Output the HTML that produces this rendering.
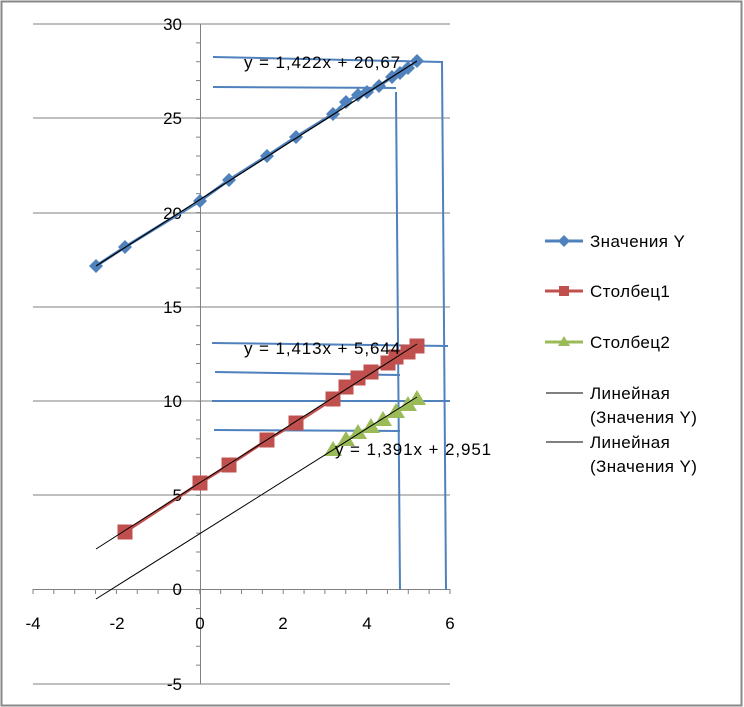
<!DOCTYPE html>
<html><head><meta charset="utf-8"><style>
html,body{margin:0;padding:0;background:#fff}
svg{display:block;font-family:"Liberation Sans",sans-serif}
</style></head><body>
<svg width="744" height="707" viewBox="0 0 744 707" xmlns="http://www.w3.org/2000/svg">
<rect x="1.5" y="1.5" width="740" height="704" fill="#fff" stroke="#888" stroke-width="2"/>
<g stroke="#808080" stroke-width="1">
<line x1="33" y1="24" x2="450" y2="24"/>
<line x1="33" y1="118" x2="450" y2="118"/>
<line x1="33" y1="213" x2="450" y2="213"/>
<line x1="33" y1="307" x2="450" y2="307"/>
<line x1="33" y1="401" x2="450" y2="401"/>
<line x1="33" y1="495" x2="450" y2="495"/>
<line x1="33" y1="589.5" x2="450" y2="589.5"/>
<line x1="33" y1="684" x2="450" y2="684"/>
<line x1="200.5" y1="24" x2="200.5" y2="684"/>
</g>
<g stroke="#808080" stroke-width="1" id="ticks"></g>
<g font-size="17" fill="#000" text-anchor="end">
<text x="182" y="30">30</text><text x="182" y="124">25</text><text x="182" y="219">20</text>
<text x="182" y="313">15</text><text x="182" y="407">10</text><text x="182" y="501">5</text>
<text x="182" y="595">0</text><text x="182" y="690">-5</text>
</g>
<g font-size="17" fill="#000" text-anchor="middle">
<text x="33" y="629">-4</text><text x="117" y="629">-2</text><text x="200" y="629">0</text>
<text x="283" y="629">2</text><text x="367" y="629">4</text><text x="450" y="629">6</text>
</g>
<g stroke="#4f81bd" stroke-width="2" fill="none">
<polyline points="213,57 442,62 446,590"/>
<polyline points="213,87 396,88"/>
<polyline points="396,92 400,590"/>
<polyline points="212,343 448,346"/>
<polyline points="215,372 400,375"/>
<polyline points="212,401 450,401"/>
<polyline points="214,430 400,431"/>
</g>
<polyline fill="none" stroke="#4f81bd" stroke-width="3" points="96,266 125,247 200,201 229,180 267,156 296,137 333,114 346,102 358,95 367,92 379,86 392,77 400,73 408,68 417,61"/>
<g fill="#4f81bd" id="bp"></g>
<line x1="96" y1="266" x2="417" y2="61" stroke="#000" stroke-width="1.2"/>
<polyline fill="none" stroke="#c0504d" stroke-width="3" points="125,532 200,483 229,465 267,440 296,423 333,399 346,387 358,378 371,372 388,363 396,357 408,352 417,346"/>
<g fill="#c0504d" id="rp"></g>
<line x1="96" y1="549" x2="417" y2="344" stroke="#000" stroke-width="1"/>
<polyline fill="none" stroke="#9bbb59" stroke-width="3" points="333,450 346,440 358,433 371,427 383,420 396,412 408,405 417,399"/>
<g fill="#9bbb59" id="gp"></g>
<line x1="96" y1="599" x2="417" y2="397" stroke="#000" stroke-width="1"/>
<g font-size="17" fill="#000" letter-spacing="0.9">
<text x="244" y="68">y = 1,422x + 20,67</text>
<text x="244" y="354">y = 1,413x + 5,644</text>
<text x="335" y="455">y = 1,391x + 2,951</text>
</g>
<line x1="545" y1="241" x2="583" y2="241" stroke="#4f81bd" stroke-width="3"/>
<polygon points="564,235 570,241 564,247 558,241" fill="#4f81bd"/>
<line x1="545" y1="291" x2="583" y2="291" stroke="#c0504d" stroke-width="3"/>
<rect x="559" y="286" width="10" height="10" fill="#c0504d"/>
<line x1="545" y1="342" x2="583" y2="342" stroke="#9bbb59" stroke-width="3"/>
<polygon points="564,336 570,346 558,346" fill="#9bbb59"/>
<line x1="546" y1="393" x2="583" y2="393" stroke="#000" stroke-width="1"/>
<line x1="546" y1="442" x2="583" y2="442" stroke="#000" stroke-width="1"/>
<g font-size="17" fill="#000" letter-spacing="0.4">
<text x="590" y="247">Значения Y</text>
<text x="590" y="297">Столбец1</text>
<text x="590" y="348">Столбец2</text>
<text x="590" y="399">Линейная</text>
<text x="590" y="423">(Значения Y)</text>
<text x="590" y="448">Линейная</text>
<text x="590" y="472">(Значения Y)</text>
</g>
<script>
var ns="http://www.w3.org/2000/svg";
function el(p,t,a){var e=document.createElementNS(ns,t);for(var k in a)e.setAttribute(k,a[k]);p.appendChild(e);}
var tk=document.getElementById("ticks");
for(var i=0;i<=40;i++){var y=24+i*(660/35);if(y>684.5)break;el(tk,"line",{x1:196,y1:y,x2:201,y2:y});}
for(var i=0;i<=20;i++){var x=33+i*(417/20);el(tk,"line",{x1:x,y1:589,x2:x,y2:594});}
var bp=[[96,266],[125,247],[200,201],[229,180],[267,156],[296,137],[333,114],[346,102],[358,95],[367,92],[379,86],[392,77],[400,73],[408,68],[417,61]];
bp.forEach(function(p){el(document.getElementById("bp"),"polygon",{points:(p[0])+","+(p[1]-7)+" "+(p[0]+7)+","+p[1]+" "+p[0]+","+(p[1]+7)+" "+(p[0]-7)+","+p[1]});});
var rp=[[125,532],[200,483],[229,465],[267,440],[296,423],[333,399],[346,387],[358,378],[371,372],[388,363],[396,357],[408,352],[417,346]];
rp.forEach(function(p){el(document.getElementById("rp"),"rect",{x:p[0]-7.5,y:p[1]-7.5,width:15,height:15});});
var gp=[[333,450],[346,440],[358,433],[371,427],[383,420],[396,412],[408,405],[417,399]];
gp.forEach(function(p){el(document.getElementById("gp"),"polygon",{points:p[0]+","+(p[1]-9)+" "+(p[0]+9)+","+(p[1]+6)+" "+(p[0]-9)+","+(p[1]+6)});});
</script>
</svg>
</body></html>
